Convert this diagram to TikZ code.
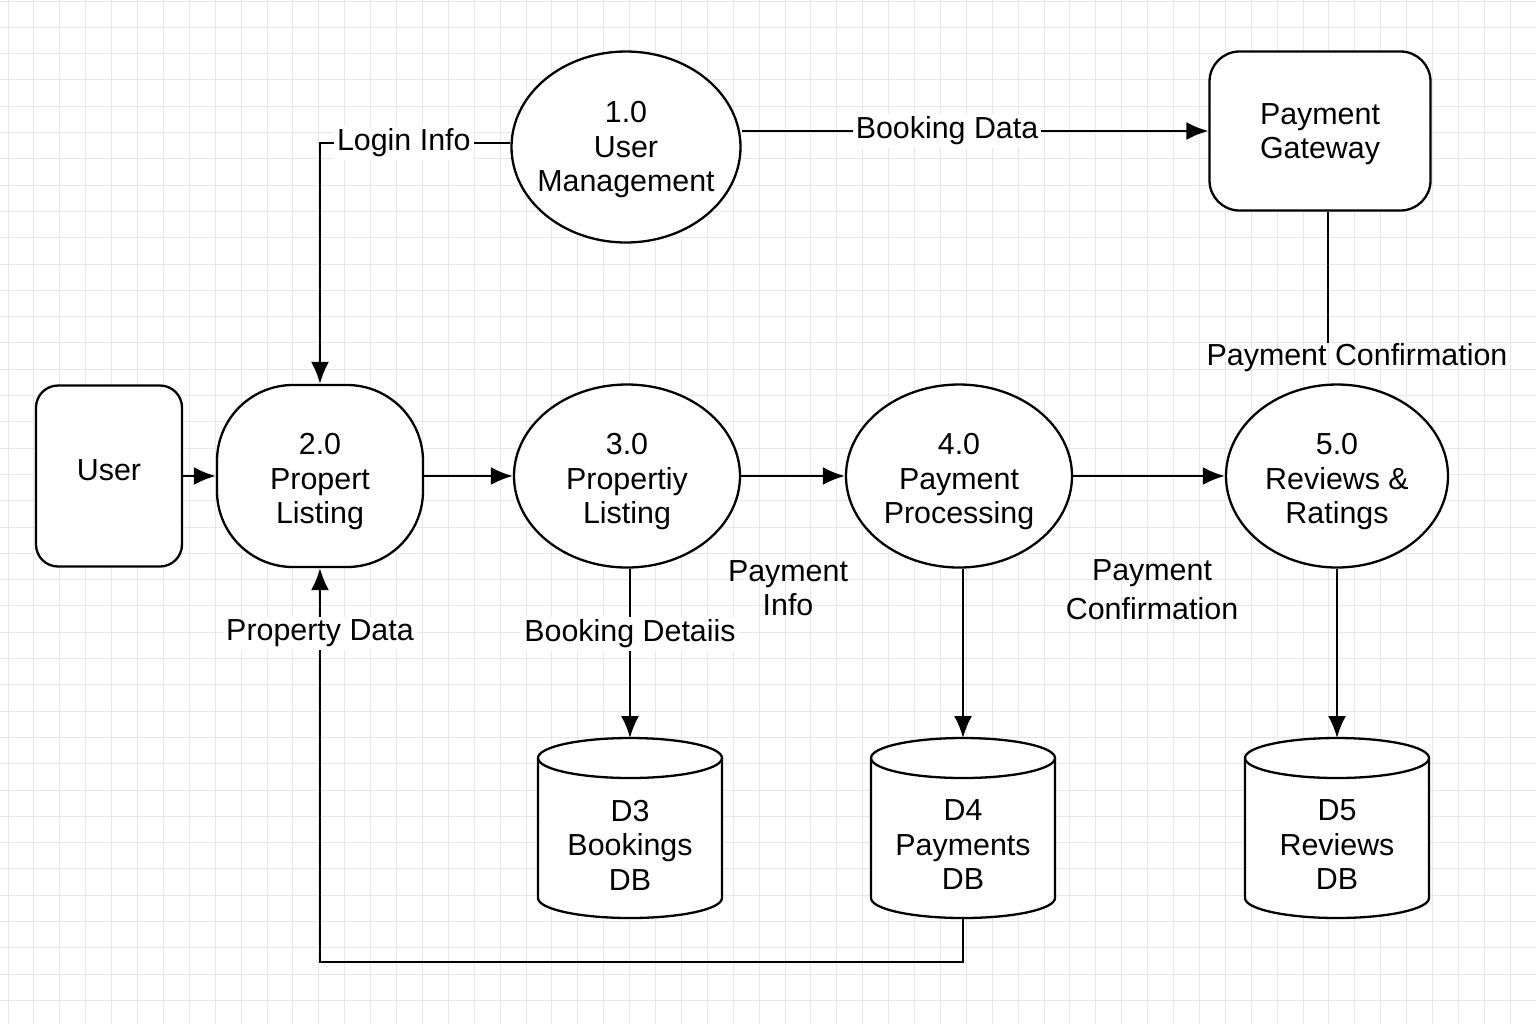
\documentclass[tikz,border=0pt]{standalone}
\usepackage{fontspec}
\setmainfont{Liberation Sans}
\usetikzlibrary{shapes.geometric,arrows.meta}
\newcommand\dbcyl[3]{%
  \draw[ln,fill=white] (#2-92,758) -- (#2-92,898)
    arc[start angle=180,end angle=0,x radius=92,y radius=20] -- (#2+92,758)
    arc[start angle=0,end angle=-180,x radius=92,y radius=20] -- cycle;
  \draw[ln] (#2-92,758) arc[start angle=180,end angle=0,x radius=92,y radius=20];
  \node[align=center] (#1) at (#2,845) {#3};
  \coordinate (#1top) at (#2,738);
  \coordinate (#1bot) at (#2,918);
}
\begin{document}
\begin{tikzpicture}[x=0.5pt,y=-0.5pt,
  font=\fontsize{15.2pt}{17.25pt}\selectfont,
  ln/.style={line width=1.15pt,black},
  arr/.style={ln,-{Latex[length=11pt,width=9pt]}},
  proc/.style={ln,draw,ellipse,inner sep=0pt,fill=white},
  ext/.style={ln,draw,rectangle,fill=white,align=center},
  ptext/.style={align=center,yshift=-3pt},
  lbl/.style={fill=white,inner sep=1.5pt,align=center},
  free/.style={align=center},
  gridln/.style={line width=0.5pt,black!9}]
\useasboundingbox (0,0) rectangle (1536,1024);
\fill[white] (0,0) rectangle (1536,1024);
\foreach \i in {0,...,59} \draw[gridln] (8+25.9*\i,0) -- (8+25.9*\i,1024);
\foreach \j in {0,...,39} \draw[gridln] (0,1+26.3*\j) -- (1536,1+26.3*\j);

% external entities
\node[ext,rounded corners=11pt,minimum width=73pt,minimum height=90.5pt,label={[yshift=3pt]center:User}] (user) at (109,476) {};
\node[ext,rounded corners=15pt,minimum width=110.5pt,minimum height=79.5pt,label={[align=center,yshift=-1.5pt]center:Payment\\Gateway}] (pg) at (1320,131) {};

% processes
\node[ln,draw,rectangle,rounded corners=38pt,minimum width=103pt,minimum height=91pt,fill=white,label={[ptext]center:2.0\\Propert\\Listing}] (p2) at (320,476) {};
\node[proc,minimum width=114.5pt,minimum height=95.5pt,label={[ptext,yshift=1.5pt]center:1.0\\User\\Management}] (p1) at (626,147) {};
\node[proc,minimum width=113pt,minimum height=91.5pt,label={[ptext]center:3.0\\Propertiy\\Listing}] (p3) at (627,476) {};
\node[proc,minimum width=113pt,minimum height=91.5pt,label={[ptext]center:4.0\\Payment\\Processing}] (p4) at (959,476) {};
\node[proc,minimum width=111pt,minimum height=91.5pt,label={[ptext]center:5.0\\Reviews \&\\Ratings}] (p5) at (1337,476) {};

% data stores
\dbcyl{d3}{630}{D3\\Bookings\\DB}
\dbcyl{d4}{963}{D4\\Payments\\DB}
\dbcyl{d5}{1337}{D5\\Reviews\\DB}

% flows
\draw[arr] (user.east) -- (p2.west);
\draw[arr] (p2.east) -- (p3.west);
\draw[arr] (p3.east) -- (p4.west);
\draw[arr] (p4.east) -- (p5.west);
\draw[arr] (p1.178) -| node[lbl,pos=0.28]{Login Info} (p2.north);
\draw[arr] (p1.east |- pg.west) -- node[lbl,pos=0.44]{Booking Data} (pg.west);
\coordinate (pgc) at (1328,343);
\draw[ln] (pg.south -| pgc) -- (pgc);
\node (pc1) at (1357,358) {Payment Confirmation};
\draw[arr] (p3.south -| d3top) -- node[lbl,pos=0.385]{Booking Detaiis} (d3top);
\draw[arr] (p4.south -| d4top) -- (d4top);
\draw[arr] (p5.south -| d5top) -- (d5top);
\coordinate (loopc) at (320,962);
\draw[arr] (d4bot) |- (loopc) -- node[lbl,pos=0.835]{Property Data} (p2.south);

% free labels
\node[free] (pinfo) at (788,588) {Payment\\Info};
\node[free,font=\fontsize{15.2pt}{19.5pt}\selectfont] (pconf) at (1152,590) {Payment\\Confirmation};
\end{tikzpicture}
\end{document}
